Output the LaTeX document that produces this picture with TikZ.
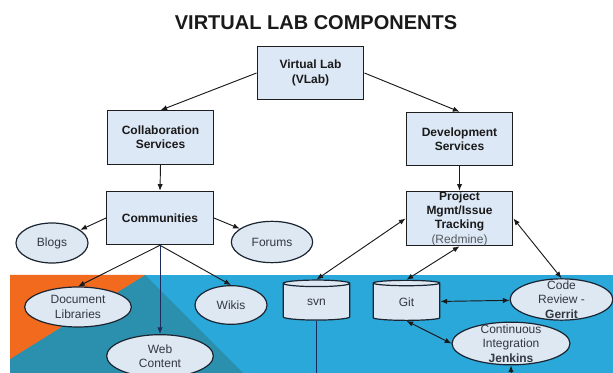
\documentclass[tikz,border=0pt]{standalone}
\usepackage{fontspec}
\setmainfont{Liberation Sans}
\usetikzlibrary{arrows.meta,shapes.geometric}
\definecolor{boxfill}{HTML}{DCE8F5}
\definecolor{ovalfill}{HTML}{DDE8F3}
\definecolor{edge}{HTML}{1E1E1E}
\definecolor{ring}{HTML}{1B2431}
\definecolor{wire}{HTML}{1A1A1A}
\definecolor{navyw}{HTML}{1C2A5C}
\definecolor{ovaltext}{HTML}{333840}
\definecolor{greytext}{HTML}{555A60}
\definecolor{skyb}{HTML}{2AA8DA}
\definecolor{tealb}{HTML}{2B90AD}
\definecolor{orng}{HTML}{F26A1E}
\tikzset{
  comp/.style={rectangle,draw=edge,line width=0.9pt,fill=boxfill,minimum width=80pt,minimum height=40pt,inner sep=0pt,align=center,font=\bfseries\fontsize{9}{10.8}\selectfont,text=wire},
  svc/.style={ellipse,draw=ring,line width=0.9pt,fill=ovalfill,inner xsep=0pt,inner ysep=-6pt,align=center,font=\fontsize{9}{10.8}\selectfont,text=ovaltext},
  repo/.style={cylinder,shape border rotate=90,aspect=0.35,draw=ring,line width=0.9pt,fill=ovalfill,minimum width=50pt,minimum height=30pt,inner sep=0pt,font=\fontsize{9}{10.8}\selectfont,text=ovaltext},
  link/.style={-{Latex[length=5pt,width=4pt]},line width=0.7pt,wire},
  dlink/.style={{Latex[length=5pt,width=4pt]}-{Latex[length=5pt,width=4pt]},line width=0.7pt,wire},
  ttl/.style={font=\bfseries\fontsize{15}{18}\selectfont,text=wire},
}
\begin{document}
\begin{tikzpicture}[x=0.75pt,y=-0.75pt]
  \useasboundingbox (0,0) rectangle (613,373);
  \fill[skyb] (10,275) rectangle (613,373);
  \fill[tealb] (145,275) -- (243,373) -- (10,373) -- (10,359) -- cycle;
  \fill[orng] (10,275) -- (145,275) -- (10,359) -- cycle;
  \node[ttl] (title) at (316,23) {VIRTUAL LAB COMPONENTS};
  \node[comp] (vlab)   at (310.5,73)    {Virtual Lab\\(VLab)};
  \node[comp] (collab) at (160.5,137.5) {Collaboration\\Services};
  \node[comp] (dev)    at (459.5,139)   {Development\\Services};
  \node[comp] (comm)   at (160,218)     {Communities};
  \node[comp] (pm)     at (459.5,218.5) {Project\\Mgmt/Issue\\Tracking\\{\mdseries\color{greytext}(Redmine)}};
  \node[svc,minimum width=54pt,minimum height=30pt]   (blogs)   at (52,243)      {Blogs};
  \node[svc,minimum width=61pt,minimum height=31pt]   (forums)  at (272,242)     {Forums};
  \node[svc,minimum width=80pt,minimum height=30pt]   (doclib)  at (78,307)      {Document\\Libraries};
  \node[svc,minimum width=54pt,minimum height=29pt]   (wikis)   at (231,305)     {Wikis};
  \node[svc,minimum width=80pt,minimum height=32pt]   (web)     at (160,356)     {Web\\Content};
  \node[svc,minimum width=77pt,minimum height=31pt]   (gerrit)  at (561.5,299.5) {Code\\Review -\\\textbf{Gerrit}};
  \node[svc,minimum width=88.5pt,minimum height=32pt] (jenkins) at (511,343.5)   {Continuous\\Integration\\\textbf{Jenkins}};
  \node[repo] (svn) at (316.5,302) {svn};
  \node[repo] (git) at (406.5,302) {Git};
  \coordinate (svnend) at (316.5,373);
  \coordinate (ciin) at (511,373);
  \draw[link] (vlab.west) -- (collab.north);
  \draw[link] (vlab.east) -- (dev.north);
  \draw[link] (collab.south) -- (comm.north);
  \draw[link] (dev.south) -- (pm.north);
  \draw[link] (comm.west) -- (blogs);
  \draw[link] (comm.east) -- (forums);
  \draw[link] (comm.south) -- (doclib.north);
  \draw[link] (comm.south) -- (wikis.north);
  \draw[link,navyw] (comm.south) -- (web.north);
  \draw[dlink] (pm.west) -- (svn.north);
  \draw[dlink] (pm.south) -- (git.north);
  \draw[dlink] (pm.east) -- (gerrit.north);
  \draw[dlink] (git) -- (gerrit);
  \draw[dlink] (git.south) -- (jenkins.west);
  \draw[line width=0.7pt,navyw] (svn.south) -- (svnend);
  \draw[link] (ciin) -- (jenkins.south);
\end{tikzpicture}
\end{document}
